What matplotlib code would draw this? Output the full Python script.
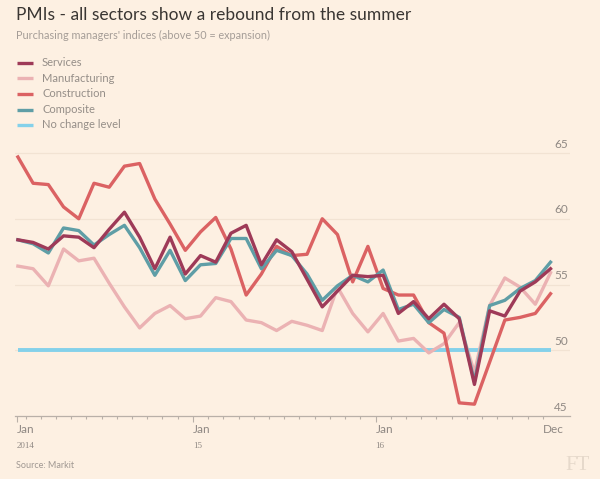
import matplotlib.pyplot as plt
from matplotlib.lines import Line2D

# monthly PMI readings, Jan 2014 - Dec 2016
services = [58.4, 58.2, 57.7, 58.7, 58.6, 57.8, 59.2, 60.5, 58.6, 56.2, 58.6, 55.8,
            57.2, 56.7, 58.9, 59.5, 56.5, 58.4, 57.5, 55.4, 53.3, 54.5, 55.7, 55.6,
            55.7, 52.8, 53.7, 52.4, 53.5, 52.4, 47.4, 53.0, 52.6, 54.5, 55.2, 56.2]
manufacturing = [56.4, 56.2, 54.9, 57.7, 56.8, 57.0, 55.1, 53.3, 51.7, 52.8, 53.4, 52.4,
                 52.6, 54.0, 53.7, 52.3, 52.1, 51.5, 52.2, 51.9, 51.5, 54.8, 52.8, 51.4,
                 52.8, 50.7, 50.9, 49.8, 50.5, 52.1, 48.3, 53.4, 55.5, 54.8, 53.5, 55.9]
construction = [64.7, 62.7, 62.6, 60.9, 60.0, 62.7, 62.4, 64.0, 64.2, 61.5, 59.6, 57.6,
                59.0, 60.1, 57.7, 54.2, 55.8, 57.9, 57.2, 57.3, 60.0, 58.8, 55.2, 57.9,
                54.7, 54.2, 54.2, 52.1, 51.3, 46.0, 45.9, 49.1, 52.3, 52.5, 52.8, 54.3]
composite = [58.4, 58.1, 57.4, 59.3, 59.1, 58.0, 58.8, 59.5, 57.8, 55.7, 57.6, 55.3,
             56.5, 56.6, 58.5, 58.5, 56.2, 57.6, 57.2, 55.8, 53.8, 54.9, 55.7, 55.2,
             56.1, 53.1, 53.5, 52.1, 53.1, 52.5, 47.6, 53.4, 53.8, 54.7, 55.3, 56.7]
no_change_level = 50

series_names = ["Services", "Manufacturing", "Construction", "Composite", "No change level"]
y_ticks = [45, 50, 55, 60, 65]
x_major = [(0, "Jan", "2014"), (12, "Jan", "15"), (24, "Jan", "16"), (35, "Dec", "")]

bg = "#fdf0e2"
colors = {
    "Services": "#9e3a58",
    "Manufacturing": "#ebb2b3",
    "Construction": "#db6263",
    "Composite": "#5f9ea6",
    "No change level": "#84d1ea",
}
font = ["Lato", "DejaVu Sans"]
plt.rcParams["font.family"] = font

fig = plt.figure(figsize=(6, 4.79), dpi=100, facecolor=bg)
ax = fig.add_axes([0.025, 0.1315, 0.925, 0.5765], facecolor=bg)

x = [i + 0.5 for i in range(len(services))]

for v in y_ticks:
    if v > 45:
        ax.axhline(v, color="#f2e3d3", lw=0.9, zorder=0)
    ax.text(35.75, v + 0.25, str(v), color="#8f8883", fontsize=8.5, va="bottom", ha="left")

ax.plot([x[0], x[-1]], [no_change_level, no_change_level], color=colors["No change level"],
        lw=2.8, solid_capstyle="butt", zorder=1)
ax.plot(x, manufacturing, color=colors["Manufacturing"], lw=2.4, zorder=2)
ax.plot(x, construction, color=colors["Construction"], lw=2.4, zorder=3)
ax.plot(x, composite, color=colors["Composite"], lw=2.4, zorder=4)
ax.plot(x, services, color=colors["Services"], lw=2.4, zorder=5)

ax.set_xlim(0.31, 36.78)
ax.set_ylim(45, 66)
for s in ["top", "right", "left"]:
    ax.spines[s].set_visible(False)
ax.spines["bottom"].set_color("#b9b0a8")
ax.spines["bottom"].set_linewidth(0.9)
ax.set_yticks([])

major_pos = [0.45] + [m for m, _, _ in x_major[1:3]]
ax.set_xticks(major_pos)
ax.set_xticklabels([])
ax.set_xticks([m for m in range(1, 36) if m not in (12, 24)], minor=True)
ax.tick_params(axis="x", which="major", length=4.5, width=0.8, color="#b9b0a8")
ax.tick_params(axis="x", which="minor", length=2.5, width=0.8, color="#b9b0a8")

for m, mon, yr in x_major:
    xp = 0.45 if m == 0 else m
    ax.annotate(mon, xy=(xp, 0), xycoords=("data", "axes fraction"), xytext=(0, -6),
                textcoords="offset points", ha="left", va="top", fontsize=8.5, color="#8f8883")
    if yr:
        ax.annotate(yr, xy=(xp, 0), xycoords=("data", "axes fraction"), xytext=(0, -19),
                    textcoords="offset points", ha="left", va="top", fontsize=6.5,
                    color="#8f8883", family="Liberation Serif")

# titles
fig.text(16 / 600, 1 - 15 / 479, "PMIs - all sectors show a rebound from the summer",
         fontsize=12.5, color="#3a3633", va="center", ha="left")
fig.text(16 / 600, 1 - 35 / 479, "Purchasing managers' indices (above 50 = expansion)",
         fontsize=7.8, color="#a59d97", va="center", ha="left")

# legend
leg_y = [62.5, 78.3, 93.8, 109.5, 125]
for name, yp in zip(series_names, leg_y):
    fy = 1 - yp / 479
    fig.add_artist(Line2D([17 / 600, 33 / 600], [fy, fy], color=colors[name], lw=2.4,
                          solid_capstyle="butt"))
    fig.text(42 / 600, fy, name, fontsize=8, color="#958e88", va="center", ha="left")

fig.text(16 / 600, 1 - 465 / 479, "Source: Markit", fontsize=6.5, color="#a09892",
         va="center", ha="left")
fig.text(590 / 600, 1 - 465 / 479, "FT", fontsize=15, color="#e6d9cb", va="center",
         ha="right", family="Liberation Serif")

fig.savefig("out.png", dpi=100, facecolor=bg)
